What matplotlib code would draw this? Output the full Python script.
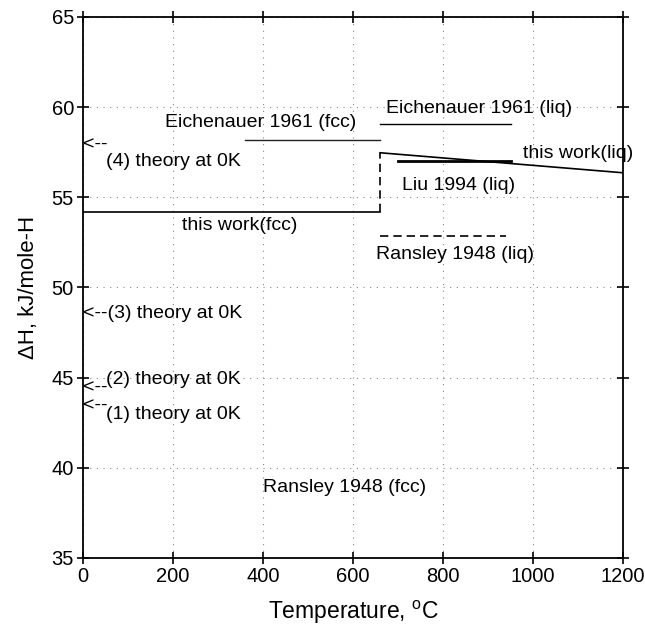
import matplotlib
matplotlib.use('Agg')
import matplotlib.pyplot as plt

plt.rcParams['font.family'] = ['Liberation Sans', 'DejaVu Sans']

# melting point step of "this work"
fcc_T = [0, 660]
fcc_H = [54.17, 54.17]
step_T = [660, 660]
step_H = [54.17, 57.47]
liq_T = [660, 1200]
liq_H = [57.47, 56.36]

# literature values
eich_fcc_T = [360, 660]
eich_fcc_H = [58.18, 58.18]
eich_liq_T = [660, 950]
eich_liq_H = [59.05, 59.05]
liu_T = [700, 950]
liu_H = [57.01, 57.01]
ransley_liq_T = [660, 940]
ransley_liq_H = [52.85, 52.85]

# text labels: (x, y, text)
labels = [
    (182, 59.16, 'Eichenauer 1961 (fcc)'),
    (673, 59.94, 'Eichenauer 1961 (liq)'),
    (978, 57.44, 'this work(liq)'),
    (708, 55.68, 'Liu 1994 (liq)'),
    (219, 53.46, 'this work(fcc)'),
    (652, 51.80, 'Ransley 1948 (liq)'),
    (400, 38.88, 'Ransley 1948 (fcc)'),
    (52, 56.97, '(4) theory at 0K'),
    (0, 48.57, '<--(3) theory at 0K'),
    (52, 44.87, '(2) theory at 0K'),
    (52, 42.93, '(1) theory at 0K'),
]
# theory values at 0K marked with arrows on the axis
arrow_H = [57.9, 44.41, 43.43]

fig = plt.figure(figsize=(6.45, 6.29), dpi=100)
ax = fig.add_axes([0.1287, 0.113, 0.8373, 0.86])

ax.plot(fcc_T, fcc_H, color='black', lw=1.2)
ax.plot(step_T, step_H, color='black', lw=1.2, ls=(0, (5, 3)))
ax.plot(liq_T, liq_H, color='black', lw=1.2)
ax.plot(eich_fcc_T, eich_fcc_H, color='#222222', lw=1.0)
ax.plot(eich_liq_T, eich_liq_H, color='black', lw=1.0)
ax.plot(liu_T, liu_H, color='black', lw=2.0)
ax.plot(ransley_liq_T, ransley_liq_H, color='black', lw=1.2, ls=(0, (5, 3)))

for x, y, s in labels:
    ax.text(x, y, s, fontsize=14, ha='left', va='center')
for y in arrow_H:
    ax.text(0, y, '<--', fontsize=14, ha='left', va='center')

ax.set_xlim(0, 1200)
ax.set_ylim(35, 65)
ax.set_xticks(range(0, 1201, 200))
ax.set_yticks(range(35, 66, 5))
ax.grid(True, ls=(0, (1, 5)), color='#888888', lw=0.8)
ax.tick_params(direction='inout', length=9, width=1.2, labelsize=14.5,
               top=True, right=True, pad=2)
for sp in ax.spines.values():
    sp.set_linewidth(1.3)

ax.set_xlabel('Temperature, $^\\mathregular{o}$C', fontsize=16.5, labelpad=9)
ax.set_ylabel('ΔH, kJ/mole-H', fontsize=16, labelpad=9)

fig.savefig('out.png', dpi=100)
